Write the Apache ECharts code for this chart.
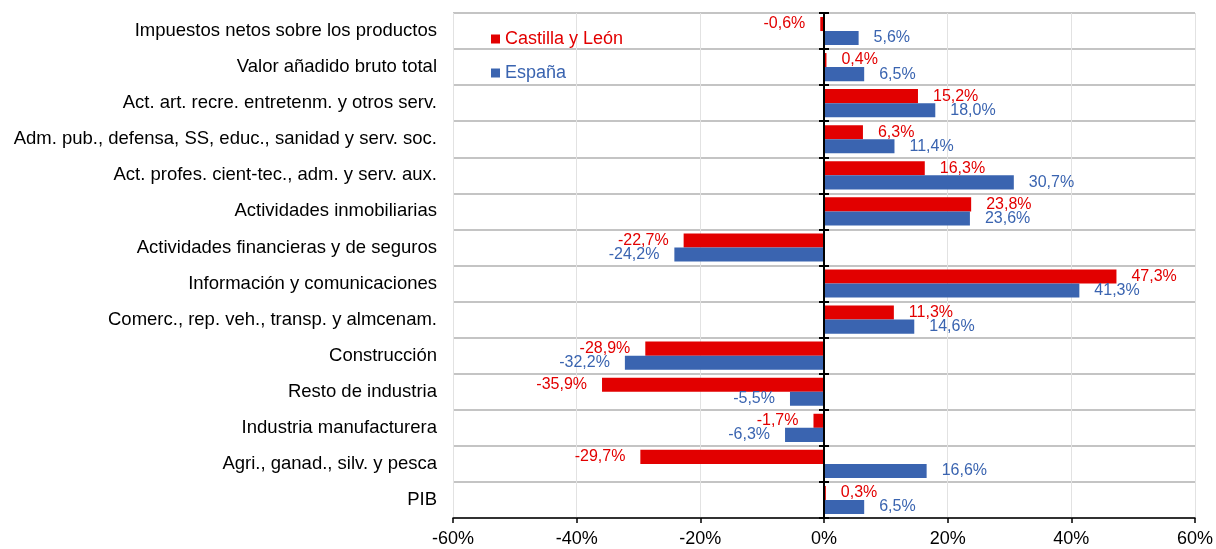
<!DOCTYPE html>
<html><head><meta charset="utf-8">
<script src="https://cdn.jsdelivr.net/npm/echarts@6/dist/echarts.min.js"></script>
<style>html,body{margin:0;padding:0;background:#fff}#c{width:1216px;height:549px}</style>
</head><body><div id="c"></div>
<script>
const categories = [
  'Impuestos netos sobre los productos',
  'Valor añadido bruto total',
  'Act. art. recre. entretenm. y otros serv.',
  'Adm. pub., defensa, SS, educ., sanidad y serv. soc.',
  'Act. profes. cient-tec., adm. y serv. aux.',
  'Actividades inmobiliarias',
  'Actividades financieras y de seguros',
  'Información y comunicaciones',
  'Comerc., rep. veh., transp. y almcenam.',
  'Construcción',
  'Resto de industria',
  'Industria manufacturera',
  'Agri., ganad., silv. y pesca',
  'PIB'
];
const castillaLeon = [-0.6, 0.4, 15.2, 6.3, 16.3, 23.8, -22.7, 47.3, 11.3, -28.9, -35.9, -1.7, -29.7, 0.3];
const espana = [5.6, 6.5, 18.0, 11.4, 30.7, 23.6, -24.2, 41.3, 14.6, -32.2, -5.5, -6.3, 16.6, 6.5];
const xTicks = { min: -60, max: 60, interval: 20 };

const RED = '#E20000', BLUE = '#3A64B0';
const FONT = 'Liberation Sans, Arial, sans-serif';
const fmt = v => v.toFixed(1).replace('.', ',') + '%';

function seriesData(arr, color) {
  return arr.map(v => ({
    value: v,
    label: {
      show: true,
      position: v < 0 ? 'left' : 'right',
      distance: 15,
      color: color,
      fontSize: 16,
      fontFamily: FONT,
      formatter: p => fmt(p.value)
    }
  }));
}

const GL = 453, GR = 21, GT = 13, GB = 31;
const zeroX = GL + (1216 - GL - GR) * (0 - xTicks.min) / (xTicks.max - xTicks.min);

const zeroAxis = (inside) => ({
  type: 'category', data: categories, inverse: true, gridIndex: 1, position: 'left', z: 10,
  axisLine: { show: true, lineStyle: { color: '#000', width: 2 } },
  axisTick: { show: true, length: 5, inside: inside, lineStyle: { color: '#000', width: 2 } },
  axisLabel: { show: false }, splitLine: { show: false }
});

const chart = echarts.init(document.getElementById('c'));
chart.setOption({
  animation: false,
  grid: [
    { left: GL, right: GR, top: GT, bottom: GB, containLabel: false },
    { left: zeroX, width: 10, top: GT, bottom: GB, containLabel: false }
  ],
  legend: {
    orient: 'vertical', left: 486, top: 25, itemGap: 16,
    itemWidth: 9, itemHeight: 9, icon: 'rect',
    textStyle: { fontSize: 18, fontFamily: FONT },
    data: [
      { name: 'Castilla y León', textStyle: { color: RED } },
      { name: 'España', textStyle: { color: BLUE } }
    ]
  },
  xAxis: [
    {
      type: 'value', min: xTicks.min, max: xTicks.max, interval: xTicks.interval,
      axisLine: { show: true, onZero: false, lineStyle: { color: '#000', width: 1.5 } },
      axisTick: { show: true, length: 5, lineStyle: { color: '#000', width: 1.5 } },
      axisLabel: { formatter: '{value}%', color: '#000', fontSize: 18, fontFamily: FONT, margin: 12 },
      splitLine: { show: true, lineStyle: { color: '#e2e2e2', width: 1 } }
    },
    { type: 'value', gridIndex: 1, show: false, min: 0, max: 1 }
  ],
  yAxis: [
    {
      type: 'category', data: categories, inverse: true,
      axisLine: { show: false }, axisTick: { show: false },
      axisLabel: { color: '#000', fontSize: 18.5, fontFamily: FONT, margin: 16 },
      splitLine: { show: true, lineStyle: { color: '#c4c4c4', width: 2 } }
    },
    zeroAxis(false),
    zeroAxis(true)
  ],
  series: [
    {
      name: 'Castilla y León', type: 'bar', xAxisIndex: 0, yAxisIndex: 0,
      barGap: '0%', barCategoryGap: '22%',
      itemStyle: { color: RED },
      data: seriesData(castillaLeon, RED)
    },
    {
      name: 'España', type: 'bar', xAxisIndex: 0, yAxisIndex: 0,
      barGap: '0%', barCategoryGap: '22%',
      itemStyle: { color: BLUE },
      data: seriesData(espana, BLUE)
    }
  ]
});
</script></body></html>
